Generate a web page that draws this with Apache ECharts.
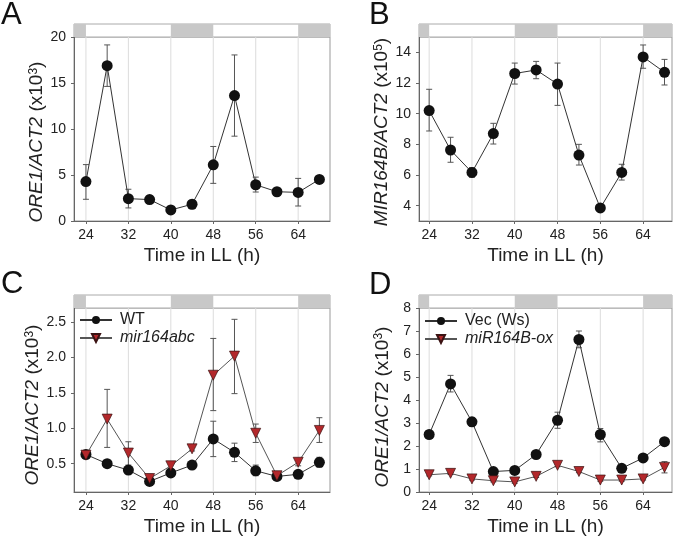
<!DOCTYPE html>
<html><head><meta charset="utf-8">
<script src="https://cdn.jsdelivr.net/npm/echarts@6/dist/echarts.min.js"></script>
<style>html,body{margin:0;padding:0;background:#fff}#c{width:677px;height:539px}</style>
</head><body><div id="c"></div>
<script>
const hours = [24, 28, 32, 36, 40, 44, 48, 52, 56, 60, 64, 68];
const xTicks = [24, 32, 40, 48, 56, 64];
const nightBands = [[16, 24], [40, 48], [64, 76]];

// Panel A: ORE1/ACT2 (x10^3)
const aMean = [4.28, 16.88, 2.43, 2.33, 1.20, 1.82, 6.11, 13.63, 3.94, 3.18, 3.11, 4.52];
const aLow  = [2.36, 14.63, 1.42, 1.88, 1.05, 1.34, 4.09, 9.22, 3.15, 2.86, 1.63, 4.27];
const aHigh = [6.13, 19.14, 3.45, 2.75, 1.35, 2.25, 8.10, 18.05, 4.77, 3.47, 4.63, 4.74];
const yTicksA = [0, 5, 10, 15, 20];

// Panel B: MIR164B/ACT2 (x10^5)
const bMean = [10.20, 7.63, 6.17, 8.70, 12.62, 12.85, 11.93, 7.30, 3.85, 6.17, 13.70, 12.70];
const bLow  = [8.87, 6.83, 5.85, 8.02, 11.93, 12.28, 10.54, 6.65, 3.61, 5.67, 12.96, 11.87];
const bHigh = [11.59, 8.46, 6.48, 9.37, 13.30, 13.41, 13.30, 8.00, 4.07, 6.70, 14.48, 13.54];
const yTicksB = [4, 6, 8, 10, 12, 14];

// Panel C: WT vs mir164abc
const cWT     = [0.63, 0.50, 0.41, 0.25, 0.37, 0.48, 0.85, 0.66, 0.40, 0.32, 0.35, 0.52];
const cWTLow  = [0.60, 0.48, 0.37, 0.22, 0.33, 0.45, 0.60, 0.53, 0.33, 0.30, 0.30, 0.45];
const cWTHigh = [0.67, 0.52, 0.45, 0.28, 0.43, 0.51, 1.10, 0.79, 0.48, 0.35, 0.39, 0.59];
const cMir     = [0.62, 1.13, 0.65, 0.29, 0.47, 0.71, 1.75, 2.02, 0.93, 0.33, 0.52, 0.97];
const cMirLow  = [0.58, 0.73, 0.48, 0.25, 0.41, 0.68, 1.25, 1.49, 0.80, 0.31, 0.47, 0.80];
const cMirHigh = [0.67, 1.55, 0.81, 0.35, 0.53, 0.74, 2.27, 2.54, 1.06, 0.36, 0.56, 1.15];
const yTicksC = [0.5, 1.0, 1.5, 2.0, 2.5];

// Panel D: Vec (Ws) vs miR164B-ox
const dVec     = [2.50, 4.70, 3.05, 0.89, 0.94, 1.63, 3.12, 6.63, 2.50, 1.03, 1.48, 2.19];
const dVecLow  = [2.38, 4.35, 2.86, 0.80, 0.85, 1.55, 2.77, 6.27, 2.18, 0.97, 1.42, 2.12];
const dVecHigh = [2.62, 5.07, 3.22, 0.98, 1.03, 1.71, 3.47, 7.00, 2.76, 1.09, 1.54, 2.26];
const dOx     = [0.75, 0.81, 0.57, 0.49, 0.44, 0.68, 1.16, 0.89, 0.52, 0.52, 0.57, 1.07];
const dOxLow  = [0.70, 0.76, 0.52, 0.44, 0.38, 0.63, 1.10, 0.84, 0.47, 0.47, 0.52, 0.83];
const dOxHigh = [0.80, 0.86, 0.62, 0.54, 0.50, 0.73, 1.22, 0.94, 0.57, 0.57, 0.62, 1.32];
const yTicksD = [0, 1, 2, 3, 4, 5, 6, 7, 8];

const FONT = '"Liberation Sans", Arial, sans-serif';
const TXT = '#222';

const panels = [
  { letter: 'A', lpos: [1, 0], grid: { left: 74, top: 37, width: 256, height: 184 }, x: [21.75, 70], y: [0, 20], yTicks: yTicksA,
    yName: '{i|ORE1/ACT2} (x10{s|3})', yShift: 26, fmt: v => String(v),
    series: [{ name: 'sA', mean: aMean, low: aLow, high: aHigh, tri: false }] },
  { letter: 'B', lpos: [369, 0], grid: { left: 419, top: 37, width: 253, height: 184 }, x: [22.1, 69.4], y: [3, 15], yTicks: yTicksB,
    yName: '{i|MIR164B/ACT2} (x10{s|5})', yShift: 6, fmt: v => String(v),
    series: [{ name: 'sB', mean: bMean, low: bLow, high: bHigh, tri: false }] },
  { letter: 'C', lpos: [1, 269], grid: { left: 74, top: 308, width: 256, height: 184 }, x: [21.75, 70], y: [0.1, 2.7], yTicks: yTicksC,
    yName: '{i|ORE1/ACT2} (x10{s|3})', yShift: 10, fmt: v => v.toFixed(1),
    series: [{ name: 'WT', mean: cWT, low: cWTLow, high: cWTHigh, tri: false },
             { name: 'mir164abc', mean: cMir, low: cMirLow, high: cMirHigh, tri: true }],
    legend: { left: 79, top: 312 } },
  { letter: 'D', lpos: [369, 270], grid: { left: 419, top: 308, width: 253, height: 184 }, x: [22.1, 69.4], y: [0, 8], yTicks: yTicksD,
    yName: '{i|ORE1/ACT2} (x10{s|3})', yShift: 14, fmt: v => String(v),
    series: [{ name: 'Vec (Ws)', mean: dVec, low: dVecLow, high: dVecHigh, tri: false },
             { name: 'miR164B-ox', mean: dOx, low: dOxLow, high: dOxHigh, tri: true }],
    legend: { left: 424, top: 313 } }
];

function renderErr(params, api) {
  const x = api.value(0), lo = api.value(1), hi = api.value(2);
  const p1 = api.coord([x, lo]), p2 = api.coord([x, hi]);
  const w = 3, st = { stroke: '#555', lineWidth: 1 };
  return { type: 'group', children: [
    { type: 'line', shape: { x1: p1[0], y1: p1[1], x2: p2[0], y2: p2[1] }, style: st },
    { type: 'line', shape: { x1: p1[0] - w, y1: p1[1], x2: p1[0] + w, y2: p1[1] }, style: st },
    { type: 'line', shape: { x1: p2[0] - w, y1: p2[1], x2: p2[0] + w, y2: p2[1] }, style: st }
  ] };
}
function renderGridLine(params, api) {
  const cs = params.coordSys;
  const p = api.coord([api.value(0), api.value(1)]);
  return { type: 'line', shape: { x1: p[0], y1: cs.y, x2: p[0], y2: cs.y + cs.height }, style: { stroke: '#dcdcdc', lineWidth: 1 } };
}
function renderBand(params, api) {
  const cs = params.coordSys;
  const a = api.coord([api.value(0), 0.5])[0], b = api.coord([api.value(1), 0.5])[0];
  const x1 = Math.max(cs.x, a), x2 = Math.min(cs.x + cs.width, b);
  if (x2 <= x1) return null;
  return { type: 'rect', shape: { x: x1, y: cs.y, width: x2 - x1, height: cs.height }, style: { fill: '#c8c8c8' } };
}

const option = { animation: false, backgroundColor: '#fff', grid: [], xAxis: [], yAxis: [], series: [], title: [], legend: [] };

panels.forEach((p, i) => {
  const gi = 2 * i, bi = 2 * i + 1;
  option.grid.push(Object.assign({ show: true, borderColor: '#999', borderWidth: 1, backgroundColor: '#fff', containLabel: false }, p.grid));
  option.grid.push({ left: p.grid.left, width: p.grid.width, top: p.grid.top - 13, height: 13, show: true, borderColor: '#aaa', borderWidth: 1, backgroundColor: '#fff' });
  option.title.push({ text: p.letter, left: p.lpos[0], top: p.lpos[1], padding: 0,
    textStyle: { fontSize: 31, fontWeight: 'normal', color: '#111', fontFamily: FONT } });

  option.xAxis.push({ type: 'value', gridIndex: gi, min: p.x[0], max: p.x[1],
    axisLine: { show: true, onZero: false, lineStyle: { color: '#666', width: 1 } },
    axisTick: { show: true, customValues: xTicks, length: 3, lineStyle: { color: '#666' } },
    axisLabel: { customValues: xTicks, fontSize: 14, color: TXT, fontFamily: FONT, margin: 7 },
    splitLine: { show: false },
    name: 'Time in LL (h)', nameLocation: 'middle', nameGap: 25,
    nameTextStyle: { fontSize: 19, color: TXT, fontFamily: FONT } });
  option.yAxis.push({ type: 'value', gridIndex: gi, min: p.y[0], max: p.y[1],
    axisLine: { show: true, onZero: false, lineStyle: { color: '#666', width: 1 } },
    axisTick: { show: true, customValues: p.yTicks, length: 3, lineStyle: { color: '#666' } },
    axisLabel: { customValues: p.yTicks, fontSize: 14, color: TXT, fontFamily: FONT, margin: 8, formatter: p.fmt },
    splitLine: { show: false },
    name: p.yName, nameLocation: 'middle', nameGap: 27, nameRotate: 90,
    nameTextStyle: { fontSize: 19, color: TXT, fontFamily: FONT, padding: [0, p.yShift, 0, 0],
      rich: { i: { fontSize: 19, fontStyle: 'italic', color: TXT, fontFamily: FONT },
              s: { fontSize: 12, verticalAlign: 'top', color: TXT, fontFamily: FONT } } } });
  option.xAxis.push({ type: 'value', gridIndex: bi, min: p.x[0], max: p.x[1], show: false });
  option.yAxis.push({ type: 'value', gridIndex: bi, min: 0, max: 1, show: false });

  option.series.push({ type: 'custom', xAxisIndex: bi, yAxisIndex: bi, renderItem: renderBand, silent: true,
    data: nightBands.map(b => [b[0], b[1]]), encode: { x: [0, 1] } });
  option.series.push({ type: 'custom', xAxisIndex: gi, yAxisIndex: gi, renderItem: renderGridLine, silent: true, z: 1,
    data: xTicks.map(t => [t, p.y[0]]) });

  p.series.forEach(s => {
    option.series.push({ type: 'custom', xAxisIndex: gi, yAxisIndex: gi, renderItem: renderErr, silent: true, z: 2,
      data: hours.map((h, k) => [h, s.low[k], s.high[k]]), encode: { x: 0, y: [1, 2] } });
  });
  p.series.forEach(s => {
    option.series.push({ type: 'line', name: s.name, xAxisIndex: gi, yAxisIndex: gi, z: 5,
      data: hours.map((h, k) => [h, s.mean[k]]),
      symbol: s.tri ? 'triangle' : 'circle', symbolRotate: s.tri ? 180 : 0, symbolSize: s.tri ? 10 : 11,
      lineStyle: { color: s.tri ? '#555' : '#333', width: 1 },
      itemStyle: s.tri ? { color: '#b3282b', borderColor: '#3a1212', borderWidth: 0.7 } : { color: '#111', borderColor: '#111', borderWidth: 0 },
      emphasis: { disabled: true } });
  });

  if (p.legend) {
    option.legend.push({ left: p.legend.left, top: p.legend.top, orient: 'vertical', padding: 0,
      itemWidth: 32, itemHeight: 10, itemGap: 2, selectedMode: false,
      textStyle: { fontSize: 16, color: TXT, fontFamily: FONT, padding: [0, 0, 0, 3] },
      data: p.series.map(s => s.tri ? { name: s.name, textStyle: { fontStyle: 'italic' } } : { name: s.name }) });
  }
});

const chart = echarts.init(document.getElementById('c'), null, { renderer: 'canvas' });
chart.setOption(option);
</script></body></html>
